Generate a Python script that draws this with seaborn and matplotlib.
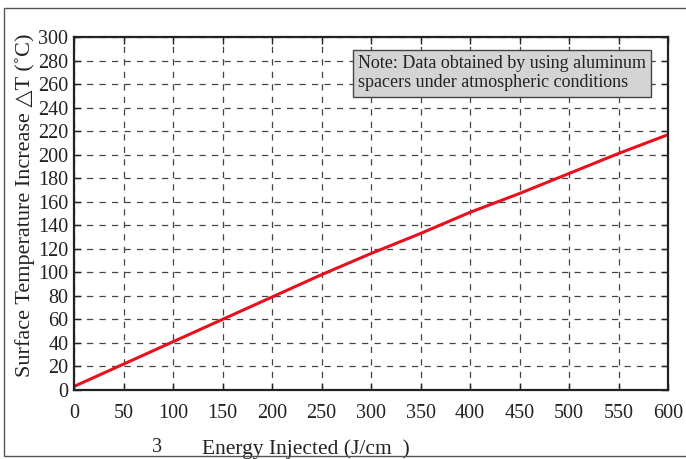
import matplotlib
matplotlib.use("Agg")
import matplotlib.pyplot as plt
import seaborn as sns
import pandas as pd
from matplotlib.patches import Rectangle

energy = [0, 50, 100, 150, 200, 250, 300, 350, 400, 450, 500, 550, 600]
temp_increase = [3, 22, 41, 60, 79, 98, 116, 133, 151, 167, 184, 201, 217]
x_ticks = list(range(0, 601, 50))
y_ticks = list(range(0, 301, 20))
note_text = "Note: Data obtained by using aluminum\nspacers under atmospheric conditions"
x_label = "Energy Injected (J/cm  )"
y_label = "Surface Temperature Increase \u25b3T (\u02daC)"

sns.set_theme(style="white")
plt.rcParams['font.family'] = ['Liberation Serif', 'DejaVu Serif']

df = pd.DataFrame({"energy": energy, "temp": temp_increase})

fig = plt.figure(figsize=(6.86, 4.59), dpi=100)
ax = fig.add_axes([74/686, 69/459, 594/686, 353/459])

sns.lineplot(data=df, x="energy", y="temp", ax=ax, color="#e8101e", linewidth=2.2)

ax.set_xlim(0, 600)
ax.set_ylim(0, 300)
ax.set_xticks(x_ticks)
ax.set_yticks(y_ticks)
ax.grid(True, linestyle=(0, (5, 5)), color="#444444", linewidth=0.9)
ax.tick_params(direction="in", length=5, width=1, colors="#222222",
               top=True, right=True, bottom=True, left=True, labelsize=14.5, pad=10)
ax.tick_params(axis="y", pad=4)
for s in ax.spines.values():
    s.set_color("#222222")
    s.set_linewidth(1.6)

ax.set_xlabel(x_label, fontsize=15.5, color="#222222")
ax.set_ylabel(y_label, fontsize=16, color="#222222")
ax.xaxis.set_label_coords(0.39, -0.14)
ax.yaxis.set_label_coords(-0.066, 0.522)

fig.text(157/686, 1 - 448/459, "3", fontsize=14.5, color="#222222", ha="center", va="center")

ax.text(0.478, 0.948, note_text, transform=ax.transAxes, fontsize=13, color="#222222",
        va="top", ha="left", linespacing=1.15,
        bbox=dict(boxstyle="square,pad=0.3", facecolor="#d4d4d4", edgecolor="#444444", linewidth=1))

fig.patches.append(Rectangle((4/686, 1 - 456/459), 0.999, 448/459, transform=fig.transFigure,
                             fill=False, edgecolor="#555555", linewidth=1))

fig.savefig("out.png", dpi=100)
